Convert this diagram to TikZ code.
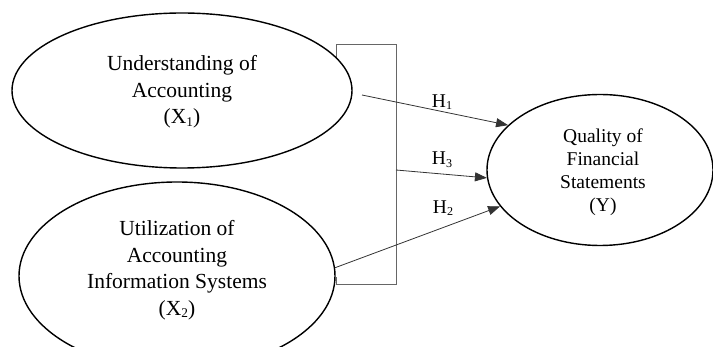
\documentclass[tikz,border=0pt]{standalone}
\usepackage{fontspec}
\setmainfont{Liberation Serif}
\usetikzlibrary{shapes.geometric,arrows.meta}
\newcommand{\mysub}[1]{\raisebox{-0.3ex}{\scalebox{0.62}{#1}}}
\begin{document}
\begin{tikzpicture}[x=1pt,y=-1pt,
  var/.style={draw=black,line width=1.4pt,ellipse,inner sep=0pt,fill=white},
  bigtxt/.style={align=center,font=\fontsize{21.5}{26.5}\selectfont,inner sep=0pt},
  smalltxt/.style={align=center,font=\fontsize{19.5}{23}\selectfont,inner sep=0pt},
  hlab/.style={font=\fontsize{19.5}{23}\selectfont,inner sep=0pt},
  conn/.style={draw=black!80,line width=0.8pt,-{Triangle[length=12pt,width=9pt]}},
  brk/.style={draw=black!60,line width=0.9pt}]
\useasboundingbox (0,0) rectangle (713,347);
\begin{scope}
\clip (0,0) rectangle (713,347);
% bracket
\draw[brk] (336,57.7) -- (336,44) -- (396,44) -- (396,284) -- (336,284) -- (336,277);
\coordinate (br) at (396,170);
\coordinate (h1s) at (362,95);
% ellipses
\node[var,minimum width=340pt,minimum height=155pt] (x1) at (182,90.5) {};
\node[var,minimum width=316pt,minimum height=188pt] (x2) at (177,276) {};
\node[var,minimum width=226pt,minimum height=151pt] (y) at (600,170) {};
\node[bigtxt] (x1t) at (182,92) {Understanding of\\Accounting\\(X\mysub{1})};
\node[bigtxt] (x2t) at (177,270) {Utilization of\\Accounting\\Information Systems\\(X\mysub{2})};
\node[smalltxt] (yt) at (603,172) {Quality of\\Financial\\Statements\\(Y)};
% connectors
\draw[conn] (h1s) -- (y.154);
\draw[conn] (br) -- (y.184);
\draw[conn] (x2.3) -- (y.200.7);
% labels
\node[hlab] (h1) at (442,102) {H\mysub{1}};
\node[hlab] (h3) at (442,160) {H\mysub{3}};
\node[hlab] (h2) at (443,208) {H\mysub{2}};
\end{scope}
\end{tikzpicture}
\end{document}
